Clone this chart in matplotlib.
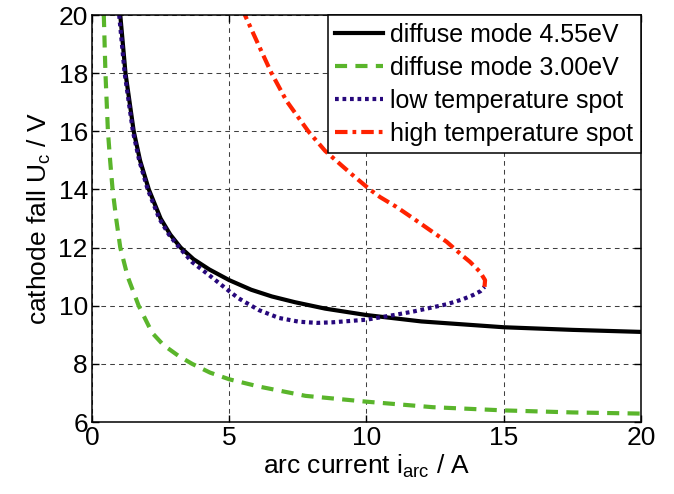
import matplotlib
matplotlib.use("Agg")
from matplotlib import pyplot as plt

plt.rcParams['font.family'] = ['Liberation Sans', 'DejaVu Sans']
plt.rcParams['mathtext.fontset'] = 'custom'
plt.rcParams['mathtext.rm'] = 'Liberation Sans'
plt.rcParams['mathtext.it'] = 'Liberation Sans:italic'

# diffuse mode, work function 4.55 eV
i_diff455 = [1.03, 1.22, 1.52, 1.75, 2.07, 2.5, 2.85, 3.23, 3.7, 4.27, 5.0, 5.8, 6.55, 7.4, 8.5,
             10.0, 12.0, 15.0, 17.5, 20.0]
u_diff455 = [20.0, 18.0, 16.0, 15.0, 14.0, 13.0, 12.45, 12.0, 11.6, 11.25, 10.88, 10.55, 10.32, 10.12, 9.9,
             9.68, 9.46, 9.26, 9.17, 9.1]

# diffuse mode, work function 3.00 eV
i_diff300 = [0.43, 0.49, 0.58, 0.66, 0.75, 0.88, 1.03, 1.3, 1.7, 2.19, 2.6, 3.16, 3.65, 4.3, 5.0,
             6.08, 7.78, 10.0, 12.42, 15.0, 17.5, 20.0]
u_diff300 = [20.0, 18.0, 16.0, 15.0, 14.0, 13.0, 12.0, 11.0, 10.0, 9.07, 8.65, 8.27, 8.0, 7.7, 7.47,
             7.22, 6.9, 6.7, 6.51, 6.4, 6.33, 6.29]

# low temperature spot
i_low = [0.99, 1.19, 1.49, 1.72, 2.03, 2.45, 2.8, 3.18, 3.65, 4.27, 5.0, 5.35, 6.08, 6.81, 7.54,
         8.2, 8.76, 10.0, 10.49, 11.0, 11.7, 12.92, 13.5, 13.89, 14.15, 14.3]
u_low = [20.0, 18.0, 16.0, 15.0, 14.0, 13.0, 12.45, 12.0, 11.5, 11.05, 10.5, 10.25, 9.85, 9.58, 9.45,
         9.41, 9.43, 9.52, 9.6, 9.68, 9.8, 10.05, 10.22, 10.37, 10.5, 10.65]

# high temperature spot
i_high = [14.3, 14.32, 14.13, 13.77, 13.5, 13.16, 12.92, 12.3, 11.71, 11.09, 10.49, 10.12, 9.55, 9.04,
          8.49, 7.88, 7.09, 6.54, 6.12, 5.57]
u_high = [10.65, 10.88, 11.17, 11.51, 11.72, 12.0, 12.2, 12.61, 13.0, 13.4, 13.74, 14.0, 14.45, 14.87,
          15.33, 16.0, 17.04, 18.0, 18.86, 20.0]

labels = ['diffuse mode 4.55eV', 'diffuse mode 3.00eV', 'low temperature spot', 'high temperature spot']
x_ticks = [0, 5, 10, 15, 20]
y_ticks = [6, 8, 10, 12, 14, 16, 18, 20]

fig = plt.figure(figsize=(6.74, 4.94), dpi=100)
ax = fig.add_axes([0.1365, 0.1457, 0.8145, 0.8239])

lw = 3
ax.plot(i_diff455, u_diff455, color='black', linewidth=lw, label=labels[0])
ax.plot(i_diff300, u_diff300, color='#5AB52B', linewidth=lw, linestyle=(0, (2.9, 2.0)), label=labels[1])
ax.plot(i_low, u_low, color='#27087C', linewidth=lw, linestyle=(0, (0.9, 0.9)), label=labels[2])
ax.plot(i_high, u_high, color='#FF2200', linewidth=lw, linestyle=(0, (3.0, 1.2, 0.9, 1.2)), label=labels[3])

ax.set_xlim(0, 20)
ax.set_ylim(6, 20)
ax.set_xticks(x_ticks)
ax.set_yticks(y_ticks)
ax.tick_params(direction='in', length=5, width=1, labelsize=19, top=True, right=True, pad=3)
ax.grid(True, linestyle=(0, (4.5, 4)), color='0.25', linewidth=0.75)
ax.set_axisbelow(True)
for s in ax.spines.values():
    s.set_linewidth(1.1)

ax.set_xlabel(r'arc current i$_{\mathrm{arc}}$ / A', fontsize=19, labelpad=2)
ax.set_ylabel(r'cathode fall U$_{\mathrm{c}}$ / V', fontsize=19, labelpad=4)

leg = ax.legend(loc='upper right', fontsize=18, frameon=True, fancybox=False, borderaxespad=0,
                handlelength=1.9, handletextpad=0.3, labelspacing=0.36, borderpad=0.3)
leg.get_frame().set_edgecolor('black')
leg.get_frame().set_linewidth(1.1)
leg.get_frame().set_alpha(1)

fig.savefig('out.png', dpi=100)
